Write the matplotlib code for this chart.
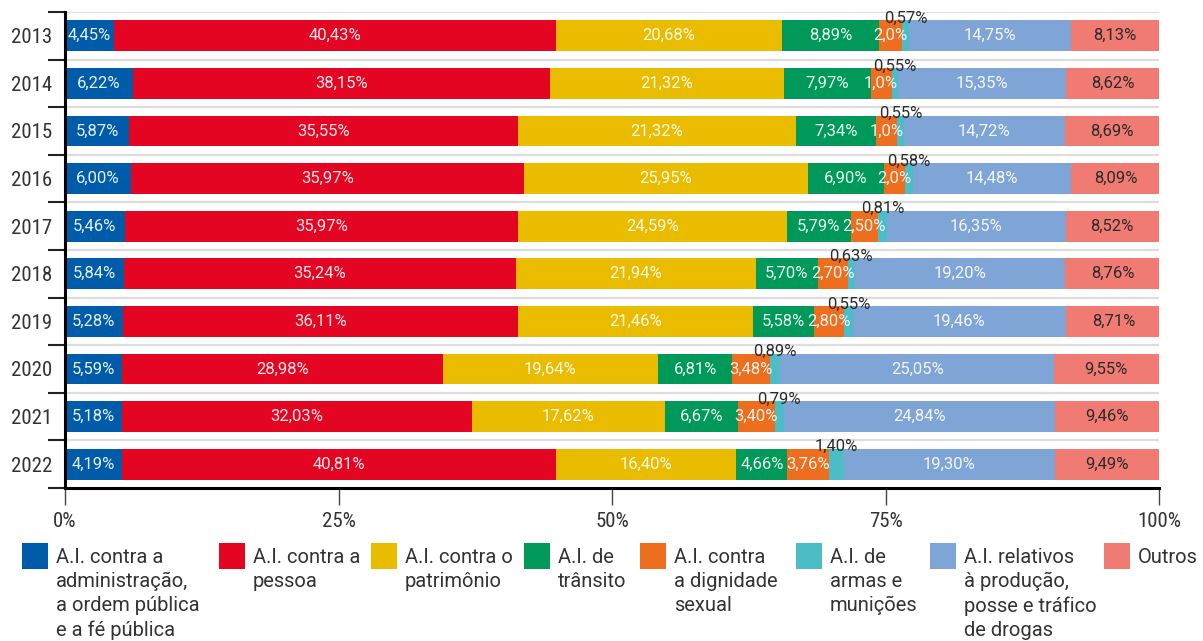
import matplotlib
matplotlib.use("Agg")
import matplotlib.pyplot as plt
from matplotlib import font_manager
from matplotlib.patches import Rectangle
import numpy as np

# ---------------- data ----------------
years = ["2013", "2014", "2015", "2016", "2017", "2018", "2019", "2020", "2021", "2022"]

# segment widths (% of bar), as drawn
admin_w   = [4.45, 6.22, 5.87, 6.00, 5.46, 5.39, 5.28, 5.18, 5.18, 5.18]
pessoa_w  = [40.43, 38.15, 35.55, 35.97, 35.97, 35.81, 36.11, 29.37, 32.03, 39.70]
patrim_w  = [20.68, 21.32, 25.40, 25.95, 24.59, 21.94, 21.46, 19.64, 17.62, 16.50]
transito_w = [8.89, 7.97, 7.34, 6.90, 5.79, 5.70, 5.58, 6.81, 6.67, 4.66]
sexual_w  = [2.07, 1.89, 1.89, 1.96, 2.50, 2.70, 2.80, 3.48, 3.40, 3.76]
armas_w   = [0.67, 0.58, 0.61, 0.73, 0.81, 0.63, 0.79, 0.89, 0.79, 1.40]
drogas_w  = [14.75, 15.35, 14.72, 14.48, 16.35, 19.20, 19.46, 25.05, 24.84, 19.30]
outros_w  = [8.13, 8.62, 8.69, 8.09, 8.52, 8.76, 8.71, 9.55, 9.46, 9.49]

# printed labels
admin_lbl   = ["4,45%", "6,22%", "5,87%", "6,00%", "5,46%", "5,84%", "5,28%", "5,59%", "5,18%", "4,19%"]
pessoa_lbl  = ["40,43%", "38,15%", "35,55%", "35,97%", "35,97%", "35,24%", "36,11%", "28,98%", "32,03%", "40,81%"]
patrim_lbl  = ["20,68%", "21,32%", "21,32%", "25,95%", "24,59%", "21,94%", "21,46%", "19,64%", "17,62%", "16,40%"]
transito_lbl = ["8,89%", "7,97%", "7,34%", "6,90%", "5,79%", "5,70%", "5,58%", "6,81%", "6,67%", "4,66%"]
sexual_lbl  = ["2,0%", "1,0%", "1,0%", "2,0%", "2,50%", "2,70%", "2,80%", "3,48%", "3,40%", "3,76%"]
armas_lbl   = ["0,57%", "0,55%", "0,55%", "0,58%", "0,81%", "0,63%", "0,55%", "0,89%", "0,79%", "1,40%"]
drogas_lbl  = ["14,75%", "15,35%", "14,72%", "14,48%", "16,35%", "19,20%", "19,46%", "25,05%", "24,84%", "19,30%"]
outros_lbl  = ["8,13%", "8,62%", "8,69%", "8,09%", "8,52%", "8,76%", "8,71%", "9,55%", "9,46%", "9,49%"]

legend_labels = [
    "A.I. contra a\nadministração,\na ordem pública\ne a fé pública",
    "A.I. contra a\npessoa",
    "A.I. contra o\npatrimônio",
    "A.I. de\ntrânsito",
    "A.I. contra\na dignidade\nsexual",
    "A.I. de\narmas e\nmunições",
    "A.I. relativos\nà produção,\nposse e tráfico\nde drogas",
    "Outros",
]
colors = ["#005CA9", "#E30521", "#E9BC00", "#00995A", "#ED6E1F", "#4CBCC6", "#7FA4D6", "#F07B72"]
xticks = [0, 25, 50, 75, 100]
xtick_labels = ["0%", "25%", "50%", "75%", "100%"]

# ---------------- fonts ----------------
avail = {f.name for f in font_manager.fontManager.ttflist}
def pick(cands):
    for c in cands:
        if c in avail:
            return c
    return "DejaVu Sans"
COND = pick(["Roboto Condensed", "Liberation Sans Narrow", "Roboto", "Liberation Sans"])
REG = pick(["Roboto", "Open Sans", "Lato", "Liberation Sans"])
plt.rcParams["font.family"] = [COND, "DejaVu Sans"]
REGF = [REG, "DejaVu Sans"]

W, H = 1203, 641
fig = plt.figure(figsize=(W / 100, H / 100), dpi=100)
ax = fig.add_axes([65 / W, 153 / H, (1159 - 65) / W, (488 - 12) / H])

y = np.arange(len(years))
series = [
    (admin_w, admin_lbl, "in_light"),
    (pessoa_w, pessoa_lbl, "in_light"),
    (patrim_w, patrim_lbl, "in_light"),
    (transito_w, transito_lbl, "in_light"),
    (sexual_w, sexual_lbl, "in_light"),
    (armas_w, armas_lbl, "above"),
    (drogas_w, drogas_lbl, "in_light"),
    (outros_w, outros_lbl, "in_dark"),
]

bar_h = 0.65
lbl_fs = 12
left = np.zeros(len(years))
for (vals, lbls, mode), col in zip(series, colors):
    vals = np.array(vals, dtype=float)
    ax.barh(y, vals, left=left, height=bar_h, color=col, linewidth=0, zorder=3)
    centers = left + vals / 2
    for i in range(len(years)):
        kw = dict(ha="center", va="center", fontsize=lbl_fs, family=REGF)
        if mode == "above":
            ax.text(centers[i], y[i] - bar_h / 2 - 0.04, lbls[i], color="#2b2b2b", zorder=5, **kw)
        elif mode == "in_dark":
            ax.text(centers[i], y[i], lbls[i], color="#2b2b2b", zorder=4, **kw)
        else:
            ax.text(centers[i], y[i], lbls[i], color="white", alpha=0.9, zorder=4, **kw)
    left = left + vals

# row separator lines
ax.hlines(np.arange(-0.5, len(years) - 0.5, 1), 0, 100, color="#dddddd", lw=1.6, zorder=1)

ax.set_xlim(0, 100)
ax.set_ylim(len(years) - 0.5, -0.5)

for s in ["top", "right"]:
    ax.spines[s].set_visible(False)
for s in ["left", "bottom"]:
    ax.spines[s].set_linewidth(2.2)
    ax.spines[s].set_color("black")
    ax.spines[s].set_zorder(6)

ax.set_xticks(xticks)
ax.set_xticklabels(xtick_labels)
ax.tick_params(axis="x", length=12, width=1.0, color="#444444", pad=5,
               labelsize=15, labelcolor="#333333")
ax.set_yticks(y)
ax.set_yticklabels(years)
ax.tick_params(axis="y", which="major", length=0, pad=9, labelsize=15, labelcolor="#333333")
ax.set_yticks(np.arange(-0.5, len(years) + 0.5, 1), minor=True)
ax.tick_params(axis="y", which="minor", length=12.5, width=1.5, color="#222222")

# ---------------- legend (manual) ----------------
sq_x = [22, 219, 371, 524, 640, 796, 930, 1104]
sq_top = 543
sq = 26
for x, c, lab in zip(sq_x, colors, legend_labels):
    fig.add_artist(Rectangle((x / W, 1 - (sq_top + sq) / H), sq / W, sq / H,
                             transform=fig.transFigure, color=c, linewidth=0))
    fig.text((x + 34) / W, 1 - (sq_top + 5) / H, lab, ha="left", va="top",
             fontsize=14.5, family=REGF, color="#333333", linespacing=1.33)

fig.savefig("out.png", dpi=100)
